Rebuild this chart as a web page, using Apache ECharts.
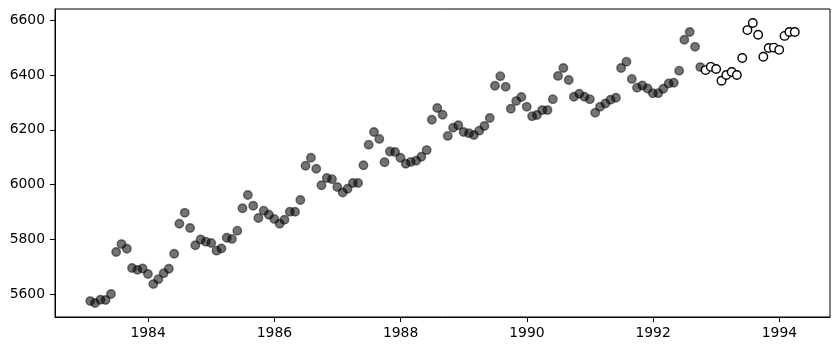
<!DOCTYPE html>
<html>
<head>
<meta charset="utf-8">
<script src="https://cdn.jsdelivr.net/npm/echarts@6/dist/echarts.min.js"></script>
<style>
  html, body { margin: 0; padding: 0; background: #fff; }
  #chart { width: 840px; height: 351px; }
</style>
</head>
<body>
<div id="chart"></div>
<script>
// Monthly observations, month-end dates starting January 1983
const startYear = 1983;
const startMonth = 0; // January

// Observed (grey) values: Jan 1983 .. Sep 1992
const observedValues = [
  5575, 5568, 5580, 5579, 5601, 5754, 5783, 5766, 5696, 5689, 5694, 5674,
  5637, 5655, 5677, 5693, 5748, 5857, 5897, 5842, 5779, 5800, 5792, 5787,
  5759, 5767, 5806, 5802, 5832, 5914, 5962, 5923, 5878, 5905, 5890, 5875,
  5857, 5872, 5901, 5901, 5944, 6069, 6098, 6058, 5998, 6024, 6020, 5991,
  5971, 5985, 6006, 6006, 6071, 6146, 6192, 6167, 6082, 6121, 6119, 6098,
  6076, 6083, 6087, 6102, 6126, 6237, 6280, 6255, 6178, 6208, 6217, 6192,
  6188, 6181, 6197, 6214, 6243, 6361, 6396, 6357, 6277, 6305, 6320, 6284,
  6250, 6254, 6272, 6272, 6312, 6397, 6426, 6382, 6321, 6332, 6321, 6312,
  6262, 6284, 6296, 6310, 6317, 6426, 6449, 6386, 6354, 6362, 6351, 6334,
  6334, 6350, 6369, 6372, 6416, 6529, 6557, 6503, 6429
];

// Held-out (white) values: Oct 1992 .. Mar 1994
const heldOutValues = [
  6418, 6430, 6422, 6379, 6400, 6411, 6400, 6462, 6564, 6590, 6547, 6467,
  6499, 6500, 6492, 6543, 6557, 6557
];

const xTickYears = [1984, 1986, 1988, 1990, 1992, 1994];
const yTickValues = [5600, 5800, 6000, 6200, 6400, 6600];

function monthEnd(i) {
  const m = startMonth + i;
  return Date.UTC(startYear + Math.floor(m / 12), (m % 12) + 1, 0);
}

const observedData = observedValues.map((v, i) => [monthEnd(i), v]);
const heldOutData = heldOutValues.map((v, i) => [monthEnd(observedValues.length + i), v]);

const allX = observedData.concat(heldOutData).map(d => d[0]);
const allY = observedValues.concat(heldOutValues);
const xMin0 = Math.min(...allX), xMax0 = Math.max(...allX);
const yMin0 = Math.min(...allY), yMax0 = Math.max(...allY);
const xPad = (xMax0 - xMin0) * 0.05, yPad = (yMax0 - yMin0) * 0.05;

const xTickValues = xTickYears.map(y => Date.UTC(y, 0, 1));

const font = { fontFamily: 'DejaVu Sans', fontSize: 13.9, color: '#000' };

const chart = echarts.init(document.getElementById('chart'), null, { renderer: 'canvas' });
chart.setOption({
  animation: false,
  backgroundColor: '#fff',
  grid: {
    left: 55, right: 10, top: 9, bottom: 34,
    show: true, borderColor: '#000', borderWidth: 1, backgroundColor: 'transparent'
  },
  xAxis: {
    type: 'value',
    min: xMin0 - xPad,
    max: xMax0 + xPad,
    splitLine: { show: false },
    axisLine: { show: true, onZero: false, lineStyle: { color: '#000', width: 1 } },
    axisTick: { show: true, length: 5, customValues: xTickValues, lineStyle: { color: '#000', width: 1 } },
    axisLabel: Object.assign({
      margin: 9,
      customValues: xTickValues,
      formatter: v => String(new Date(v).getUTCFullYear())
    }, font)
  },
  yAxis: {
    type: 'value',
    min: yMin0 - yPad,
    max: yMax0 + yPad,
    splitLine: { show: false },
    axisLine: { show: true, onZero: false, lineStyle: { color: '#000', width: 1 } },
    axisTick: { show: true, length: 5, customValues: yTickValues, lineStyle: { color: '#000', width: 1 } },
    axisLabel: Object.assign({
      margin: 10,
      customValues: yTickValues,
      formatter: v => String(v)
    }, font)
  },
  series: [
    {
      type: 'scatter',
      data: observedData,
      symbol: 'circle',
      symbolSize: 8.5,
      itemStyle: { color: 'rgba(0,0,0,0.55)', borderColor: 'rgba(0,0,0,0.5)', borderWidth: 1.4, opacity: 1 },
      emphasis: { disabled: true },
      z: 2
    },
    {
      type: 'scatter',
      data: heldOutData,
      symbol: 'circle',
      symbolSize: 8.5,
      itemStyle: { color: '#fff', borderColor: '#000', borderWidth: 1.4, opacity: 1 },
      emphasis: { disabled: true },
      z: 3
    }
  ]
});
</script>
</body>
</html>
